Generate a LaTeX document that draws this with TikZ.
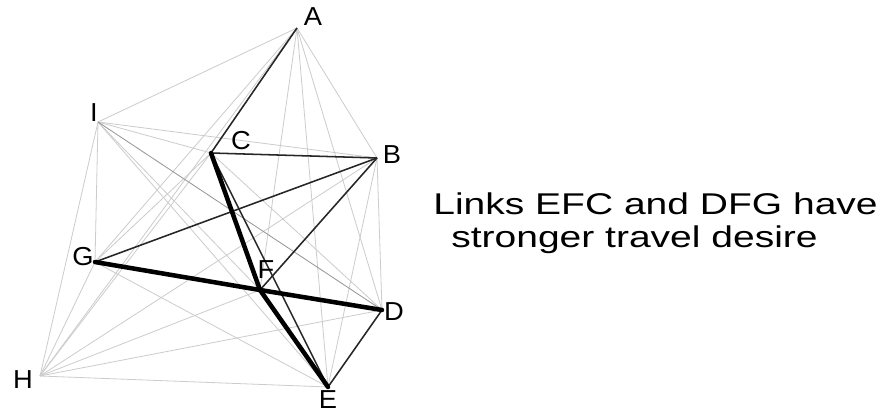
\documentclass[tikz,border=0pt]{standalone}
\usepackage{fontspec}
\setmainfont{Liberation Sans}
\begin{document}
\begin{tikzpicture}[x=0.75pt,y=-0.75pt,
  faint/.style={draw=black!20,line width=0.6pt},
  mid/.style={draw=black!42,line width=0.6pt},
  strong/.style={draw=black!85,line width=1.15pt},
  heavy/.style={draw=black,line width=3.4pt,line cap=round},
  lbl/.style={font=\fontsize{19.5}{20}\selectfont,inner sep=0pt,xscale=1.05},
  caption/.style={font=\fontsize{22.5}{27}\selectfont,inner sep=0pt,anchor=base west,xscale=1.3}]
\useasboundingbox (0,0) rectangle (890,413);
\fill[white] (0,0) rectangle (890,413);
% vertices
\coordinate (A) at (297,28);
\coordinate (I) at (98,122);
\coordinate (C) at (211,153);
\coordinate (B) at (377,158);
\coordinate (G) at (95,262);
\coordinate (F) at (260,290);
\coordinate (D) at (382,310);
\coordinate (H) at (40,376);
\coordinate (E) at (328,387);
% all pairs, faint
\foreach \u/\v in {A/I,A/C,A/B,A/G,A/F,A/D,A/H,A/E,
                   I/C,I/B,I/G,I/F,I/H,I/E,
                   C/B,C/G,C/F,C/D,C/H,C/E,
                   B/G,B/F,B/D,B/H,B/E,
                   G/F,G/D,G/H,G/E,
                   F/D,F/H,F/E,
                   D/H,D/E,
                   H/E}
  \draw[faint] (\u) -- (\v);
\draw[mid] (I) -- (D);
% stronger desire lines
\draw[strong] (A) -- (C);
\draw[strong] (C) -- (B);
\draw[strong] (B) -- (G);
\draw[strong] (B) -- (F);
\draw[strong] (C) -- (E);
\draw[strong] (D) -- (E);
\draw[heavy] (C) -- (F);
\draw[heavy] (F) -- (E);
\draw[heavy] (G) -- (F);
\draw[heavy] (F) -- (D);
% labels
\node[lbl] (lA) at (313,17) {A};
\node[lbl] (lI) at (94,113) {I};
\node[lbl] (lC) at (241,141) {C};
\node[lbl] (lB) at (392,155) {B};
\node[lbl] (lG) at (83,257) {G};
\node[lbl] (lF) at (266,270) {F};
\node[lbl] (lD) at (394,312) {D};
\node[lbl] (lH) at (23,380) {H};
\node[lbl] (lE) at (328,400) {E};
% caption
\node[caption] (cap1) at (433,215) {Links EFC and DFG have};
\node[caption] (cap2) at (451,248) {stronger travel desire};
\end{tikzpicture}
\end{document}
